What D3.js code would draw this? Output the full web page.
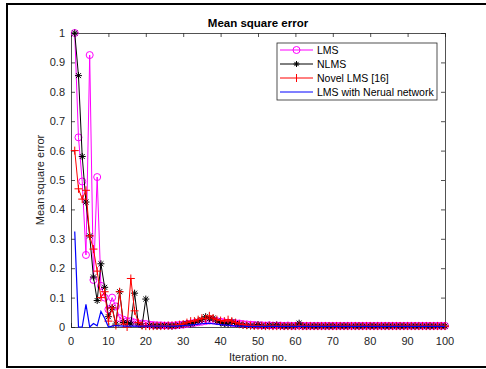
<!DOCTYPE html>
<html>
<head>
<meta charset="utf-8">
<script src="https://cdn.jsdelivr.net/npm/d3@7"></script>
<style>
  body { margin: 0; background: #fff; }
  text { font-family: "Liberation Sans", Arial, sans-serif; }
</style>
</head>
<body>
<svg id="chart" width="486" height="369"></svg>
<script>
// values, iteration 1..100
const lms = [
  1.0, 0.645, 0.495, 0.245, 0.925, 0.16, 0.51, 0.14, 0.10, 0.06,
  0.10, 0.07, 0.03, 0.025, 0.02, 0.02, 0.015, 0.012, 0.012, 0.01,
  0.008, 0.007, 0.006, 0.006, 0.005, 0.005, 0.005, 0.006, 0.007, 0.008,
  0.01, 0.012, 0.014, 0.016, 0.018, 0.02, 0.022, 0.022, 0.02, 0.018,
  0.016, 0.015, 0.014, 0.013, 0.012, 0.01, 0.009, 0.008, 0.007, 0.006,
  0.006, 0.005, 0.006, 0.005, 0.005, 0.005, 0.004, 0.005, 0.004, 0.004,
  0.005, 0.004, 0.004, 0.004, 0.004, 0.004, 0.004, 0.004, 0.004, 0.004,
  0.004, 0.004, 0.004, 0.004, 0.004, 0.004, 0.004, 0.004, 0.004, 0.004,
  0.004, 0.004, 0.004, 0.004, 0.004, 0.004, 0.004, 0.004, 0.004, 0.004,
  0.004, 0.004, 0.004, 0.004, 0.004, 0.004, 0.004, 0.004, 0.004, 0.004
];
const nlms = [
  1.0, 0.855, 0.58, 0.425, 0.31, 0.17, 0.09, 0.215, 0.135, 0.035,
  0.065, 0.01, 0.12, 0.015, 0.015, 0.01, 0.115, 0.01, 0.005, 0.095,
  0.005, 0.004, 0.003, 0.004, 0.005, 0.004, 0.003, 0.005, 0.006, 0.008,
  0.012, 0.01, 0.015, 0.02, 0.025, 0.035, 0.028, 0.03, 0.02, 0.015,
  0.012, 0.01, 0.018, 0.012, 0.008, 0.006, 0.005, 0.004, 0.004, 0.008,
  0.004, 0.003, 0.006, 0.004, 0.007, 0.003, 0.003, 0.003, 0.003, 0.003,
  0.013, 0.003, 0.003, 0.003, 0.003, 0.003, 0.003, 0.003, 0.003, 0.003,
  0.003, 0.003, 0.003, 0.003, 0.003, 0.003, 0.003, 0.003, 0.003, 0.003,
  0.003, 0.003, 0.003, 0.003, 0.003, 0.003, 0.003, 0.003, 0.003, 0.003,
  0.003, 0.003, 0.003, 0.003, 0.003, 0.003, 0.003, 0.003, 0.003, 0.003
];
const novel = [
  0.6, 0.47, 0.435, 0.465, 0.31, 0.265, 0.19, 0.10, 0.12, 0.02,
  0.065, 0.005, 0.12, 0.01, 0.0, 0.165, 0.055, 0.015, 0.005, 0.003,
  0.003, 0.003, 0.004, 0.003, 0.004, 0.005, 0.005, 0.006, 0.008, 0.01,
  0.015, 0.02, 0.02, 0.025, 0.03, 0.028, 0.038, 0.03, 0.025, 0.022,
  0.02, 0.025, 0.02, 0.015, 0.01, 0.008, 0.006, 0.005, 0.004, 0.004,
  0.004, 0.003, 0.003, 0.003, 0.003, 0.003, 0.003, 0.003, 0.003, 0.003,
  0.003, 0.003, 0.003, 0.003, 0.003, 0.003, 0.003, 0.003, 0.003, 0.003,
  0.003, 0.003, 0.003, 0.003, 0.003, 0.003, 0.003, 0.003, 0.003, 0.003,
  0.003, 0.003, 0.003, 0.003, 0.003, 0.003, 0.003, 0.003, 0.003, 0.003,
  0.003, 0.003, 0.003, 0.003, 0.003, 0.003, 0.003, 0.003, 0.003, 0.003
];
const nn = [
  0.325, 0.0, 0.0, 0.077, 0.0, 0.012, 0.004, 0.053, 0.03, 0.0,
  0.003, 0.005, 0.004, 0.003, 0.003, 0.003, 0.003, 0.003, 0.003, 0.003,
  0.003, 0.003, 0.003, 0.003, 0.003, 0.003, 0.003, 0.003, 0.004, 0.005,
  0.006, 0.007, 0.008, 0.01, 0.011, 0.012, 0.012, 0.011, 0.01, 0.008,
  0.007, 0.006, 0.005, 0.004, 0.003, 0.003, 0.002, 0.002, 0.002, 0.002,
  0.002, 0.002, 0.002, 0.002, 0.002, 0.002, 0.002, 0.002, 0.002, 0.002,
  0.002, 0.002, 0.002, 0.002, 0.002, 0.002, 0.002, 0.002, 0.002, 0.002,
  0.002, 0.002, 0.002, 0.002, 0.002, 0.002, 0.002, 0.002, 0.002, 0.002,
  0.002, 0.002, 0.002, 0.002, 0.002, 0.002, 0.002, 0.002, 0.002, 0.002,
  0.002, 0.002, 0.002, 0.002, 0.002, 0.002, 0.002, 0.002, 0.002, 0.002
];
const seriesNames = ['LMS', 'NLMS', 'Novel LMS [16]', 'LMS with Nerual network'];
const xTicks = d3.range(0, 101, 10);
const yTicks = d3.range(0, 1.01, 0.1);

const svg = d3.select('#chart');
const plotLeft = 71, plotRight = 445, plotTop = 33, plotBottom = 327;
const axisColor = '#262626';

// outer frame of the figure
svg.append('rect')
    .attr('x', 7).attr('y', 4)
    .attr('width', 500).attr('height', 363)
    .attr('fill', 'none')
    .attr('stroke', '#000')
    .attr('stroke-width', 2);

const x = d3.scaleLinear().domain([0, 100]).range([plotLeft, plotRight]);
const y = d3.scaleLinear().domain([0, 1]).range([plotBottom, plotTop]);

// axes box with inward ticks
const gx = svg.append('g').attr('transform', `translate(0,${plotBottom})`)
    .call(d3.axisTop(x).tickValues(xTicks).tickSize(4).tickFormat(''));
const gxt = svg.append('g').attr('transform', `translate(0,${plotTop})`)
    .call(d3.axisBottom(x).tickValues(xTicks).tickSize(4).tickFormat(''));
const gy = svg.append('g').attr('transform', `translate(${plotLeft},0)`)
    .call(d3.axisRight(y).tickValues(yTicks).tickSize(4).tickFormat(''));
const gyr = svg.append('g').attr('transform', `translate(${plotRight},0)`)
    .call(d3.axisLeft(y).tickValues(yTicks).tickSize(4).tickFormat(''));
[gx, gxt, gy, gyr].forEach(g => {
    g.select('.domain').attr('stroke', axisColor).attr('stroke-width', 0.8);
    g.selectAll('.tick line').attr('stroke', axisColor).attr('stroke-width', 0.8);
});

// tick labels
svg.append('g').selectAll('text').data(xTicks).join('text')
    .attr('x', d => x(d)).attr('y', plotBottom + 18)
    .attr('text-anchor', 'middle')
    .attr('font-size', 11).attr('fill', axisColor)
    .text(d => d);
svg.append('g').selectAll('text').data(yTicks).join('text')
    .attr('x', plotLeft - 6).attr('y', d => y(d) + 4)
    .attr('text-anchor', 'end')
    .attr('font-size', 11).attr('fill', axisColor)
    .text(d => d3.format('~g')(+d.toFixed(1)));

// titles
svg.append('text')
    .attr('x', (plotLeft + plotRight) / 2).attr('y', 27)
    .attr('text-anchor', 'middle')
    .attr('font-size', 11.5).attr('font-weight', 'bold').attr('fill', '#000')
    .text('Mean square error');
svg.append('text')
    .attr('x', (plotLeft + plotRight) / 2).attr('y', 361)
    .attr('text-anchor', 'middle')
    .attr('font-size', 11).attr('fill', axisColor)
    .text('Iteration no.');
svg.append('text')
    .attr('transform', `translate(44,${(plotTop + plotBottom) / 2}) rotate(-90)`)
    .attr('text-anchor', 'middle')
    .attr('font-size', 11).attr('fill', axisColor)
    .text('Mean square error');

const line = d3.line().x((d, i) => x(i + 1)).y(d => y(d));
const plot = svg.append('g');

function starPath(cx, cy, r) {
    let p = '';
    for (let k = 0; k < 4; k++) {
        const a = k * Math.PI / 4;
        const dx = r * Math.cos(a), dy = r * Math.sin(a);
        p += `M${cx - dx},${cy - dy}L${cx + dx},${cy + dy}`;
    }
    return p;
}

// LMS
plot.append('path').datum(lms).attr('d', line)
    .attr('fill', 'none').attr('stroke', '#ff00ff').attr('stroke-width', 1);
plot.append('g').selectAll('circle').data(lms).join('circle')
    .attr('cx', (d, i) => x(i + 1)).attr('cy', d => y(d)).attr('r', 3.5)
    .attr('fill', 'none').attr('stroke', '#ff00ff').attr('stroke-width', 1);

// NLMS
plot.append('path').datum(nlms).attr('d', line)
    .attr('fill', 'none').attr('stroke', '#000').attr('stroke-width', 1);
plot.append('g').selectAll('path').data(nlms).join('path')
    .attr('d', (d, i) => starPath(x(i + 1), y(d), 3.5))
    .attr('stroke', '#000').attr('stroke-width', 1);

// Novel LMS
plot.append('path').datum(novel).attr('d', line)
    .attr('fill', 'none').attr('stroke', '#ff0000').attr('stroke-width', 1);
plot.append('g').selectAll('path').data(novel).join('path')
    .attr('d', (d, i) => {
        const cx = x(i + 1), cy = y(d), r = 4;
        return `M${cx - r},${cy}L${cx + r},${cy}M${cx},${cy - r}L${cx},${cy + r}`;
    })
    .attr('stroke', '#ff0000').attr('stroke-width', 1);

// LMS with NN
plot.append('path').datum(nn).attr('d', line)
    .attr('fill', 'none').attr('stroke', '#0000ff').attr('stroke-width', 1.2);

// legend
const lg = svg.append('g');
lg.append('rect')
    .attr('x', 277).attr('y', 43).attr('width', 160).attr('height', 57)
    .attr('fill', '#fff').attr('stroke', axisColor).attr('stroke-width', 0.8);
const colors = ['#ff00ff', '#000', '#ff0000', '#0000ff'];
seriesNames.forEach((name, i) => {
    const ly = 50 + i * 14;
    lg.append('line').attr('x1', 280).attr('x2', 313).attr('y1', ly).attr('y2', ly)
        .attr('stroke', colors[i]).attr('stroke-width', 1);
    if (i === 0) {
        lg.append('circle').attr('cx', 296.5).attr('cy', ly).attr('r', 3.5)
            .attr('fill', 'none').attr('stroke', colors[i]);
    } else if (i === 1) {
        lg.append('path').attr('d', starPath(296.5, ly, 3)).attr('stroke', '#000');
    } else if (i === 2) {
        lg.append('path').attr('d', `M296.5,${ly - 4}L296.5,${ly + 4}`).attr('stroke', colors[i]);
    }
    lg.append('text').attr('x', 317).attr('y', ly + 4)
        .attr('font-size', 10.5).attr('fill', '#000')
        .text(name);
});
</script>
</body>
</html>
